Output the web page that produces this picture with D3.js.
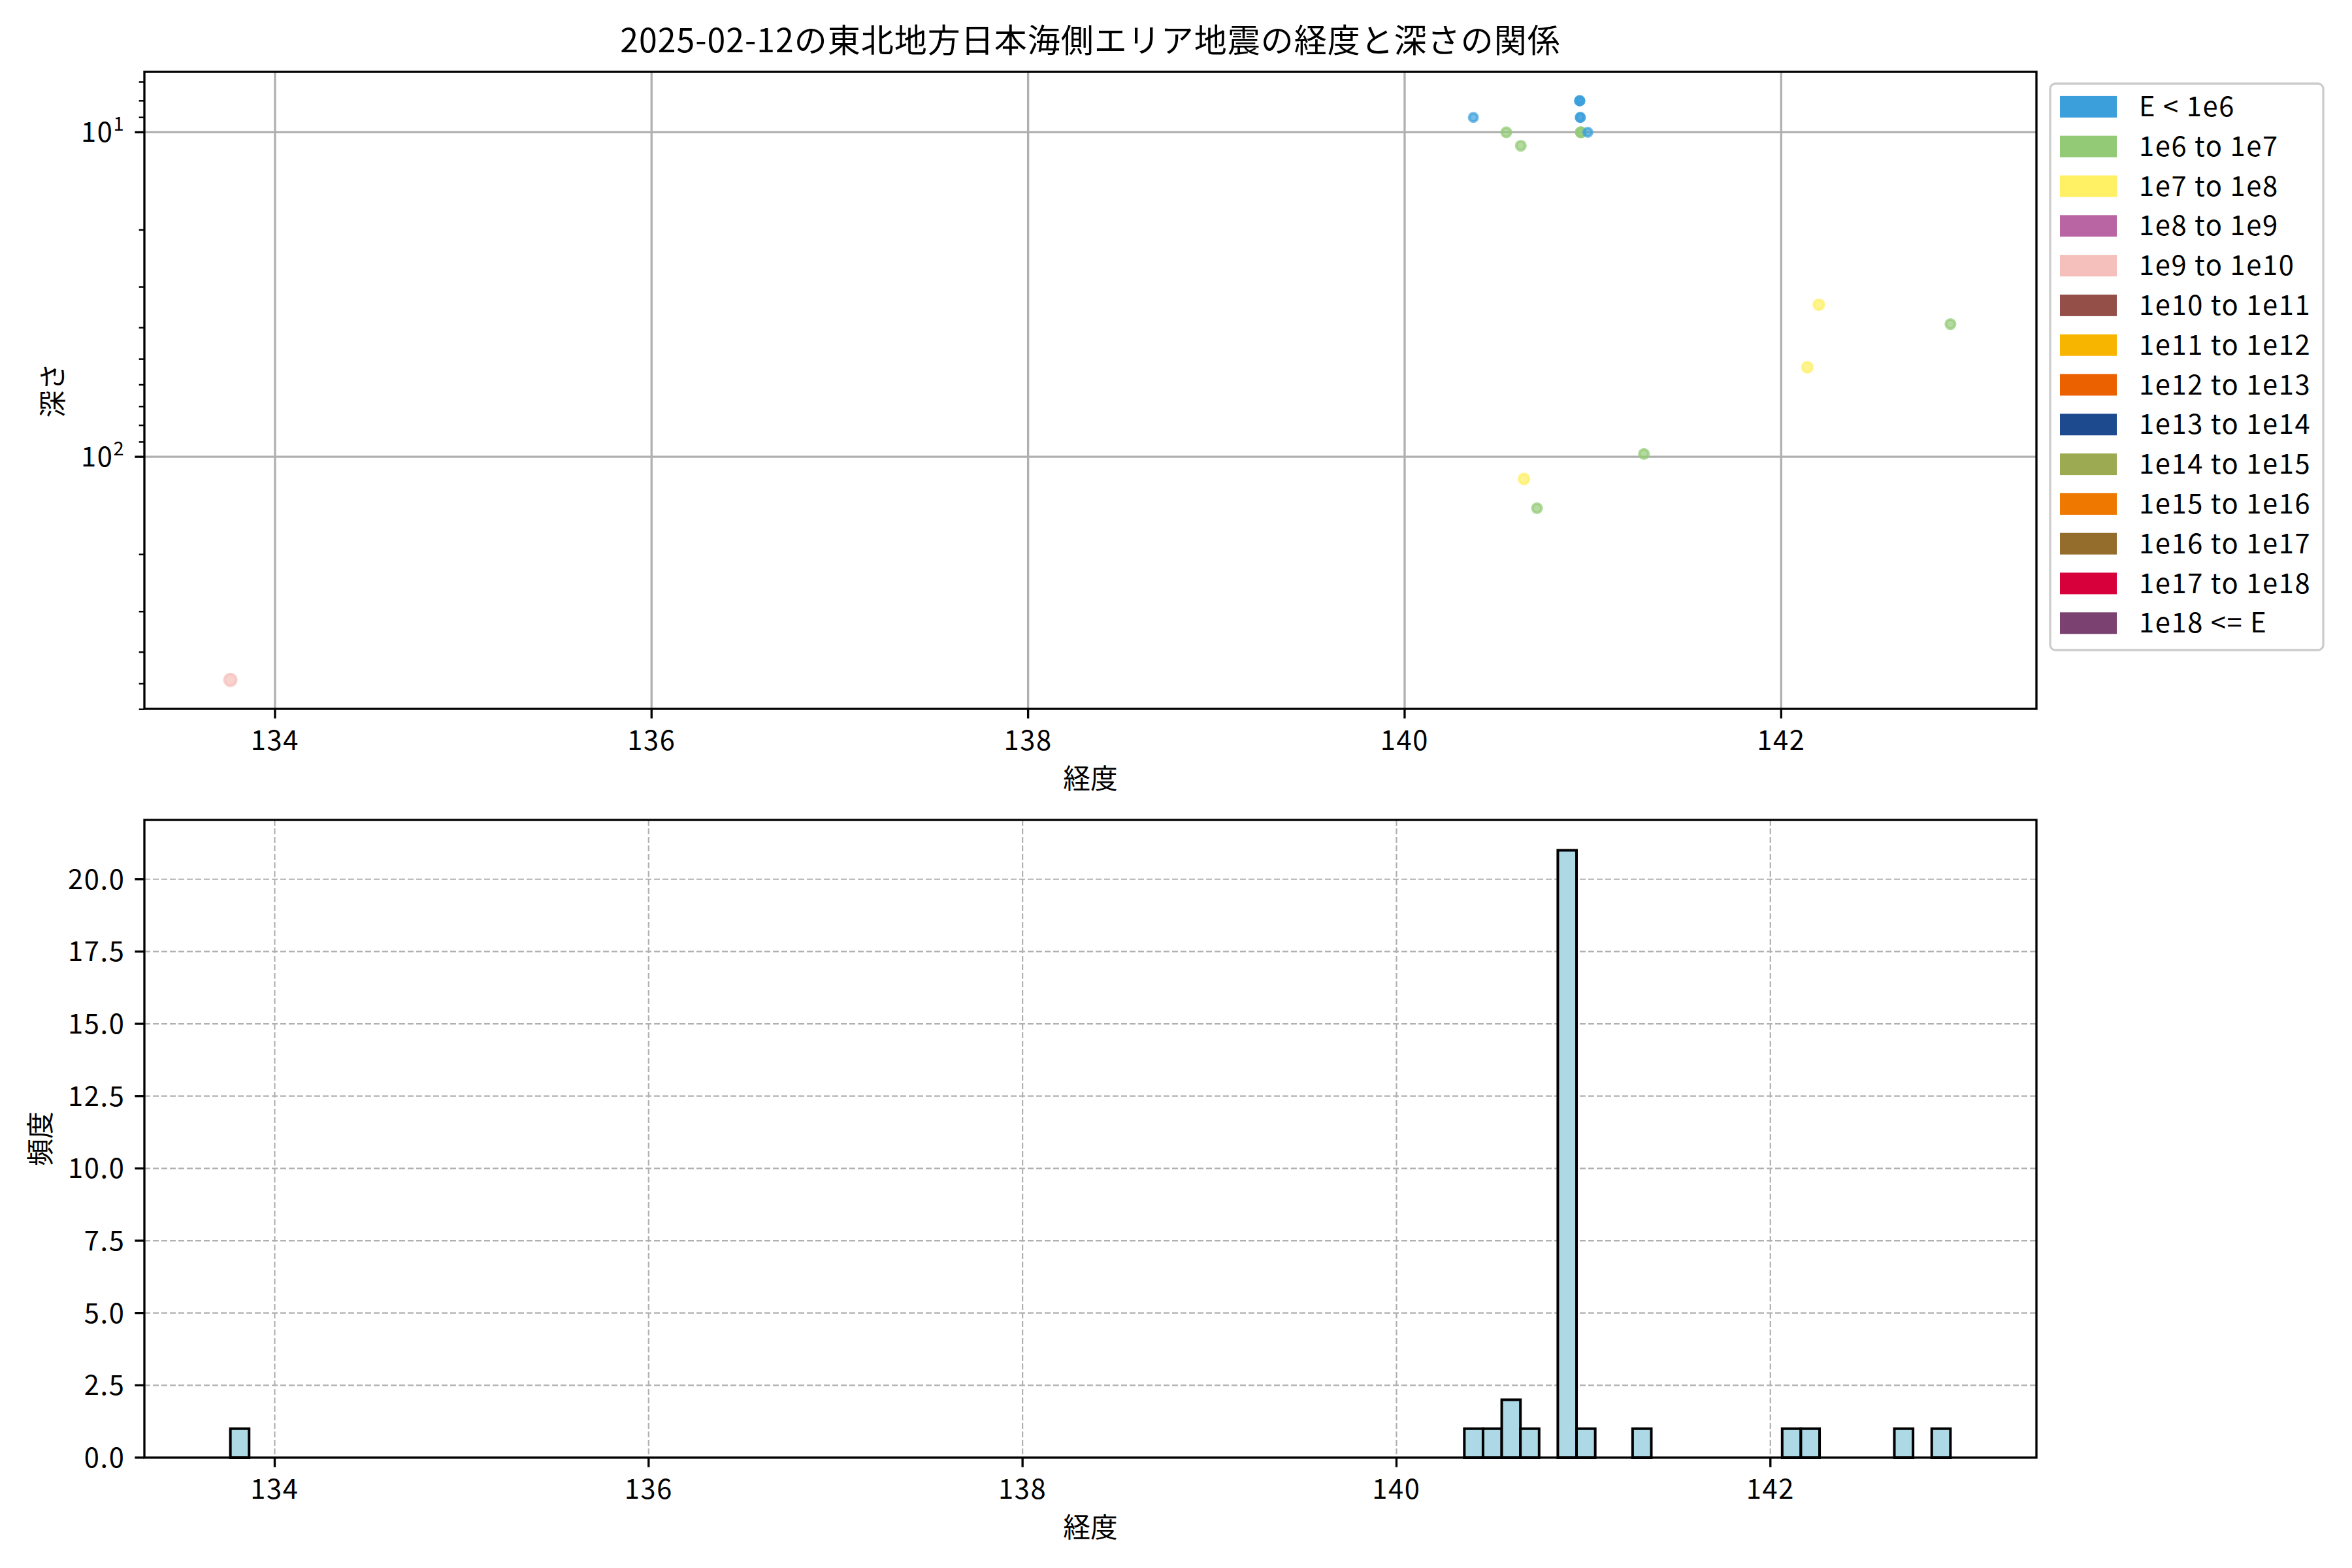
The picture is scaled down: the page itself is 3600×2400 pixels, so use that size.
<!DOCTYPE html>
<html><head><meta charset="utf-8">
<script src="https://cdn.jsdelivr.net/npm/d3@7"></script>
<style>body{margin:0;background:#fff}</style>
</head><body><svg id="chart" width="3600" height="2400" xmlns="http://www.w3.org/2000/svg"></svg>
<script>
// ---------- data ----------
const chartTitle = "2025-02-12の東北地方日本海側エリア地震の経度と深さの関係";
const xLabel = "経度";
const depthLabel = "深さ";
const countLabel = "頻度";

const energyLabels = ["E < 1e6","1e6 to 1e7","1e7 to 1e8","1e8 to 1e9","1e9 to 1e10","1e10 to 1e11",
  "1e11 to 1e12","1e12 to 1e13","1e13 to 1e14","1e14 to 1e15","1e15 to 1e16","1e16 to 1e17",
  "1e17 to 1e18","1e18 <= E"];
const energyColors = ["#3a9fdb","#93ca76","#fff064","#b965a3","#f5bfbb","#934f48","#f8b500",
  "#eb6100","#1d4a8f","#9caa52","#ee7800","#946c2c","#d7003a","#7a4171"];

// scatter points (longitude, depth km, energy class index)
const pointLon   = [140.365, 140.540, 140.617, 140.930, 140.930, 140.930, 140.933, 140.933, 140.936, 140.936, 140.973, 140.634, 140.703, 141.271, 142.200, 142.899, 142.139, 133.763];
const pointDepth = [9.0,     10.0,    11.0,    8.0,     8.0,     8.0,     9.0,     9.0,     10.0,    10.0,    10.0,    117,     144,     98,      34,      39,      53,      487];
const pointClass = [0,       1,       1,       0,       0,       0,       0,       0,       1,       1,       0,       2,       1,       1,       2,       1,       2,       4];

// histogram of longitudes (bin left edge, count), bin width 0.1
const histBinLeft = [133.763, 140.363, 140.463, 140.563, 140.663, 140.863, 140.963, 141.263, 142.063, 142.163, 142.663, 142.863];
const histCount   = [1,       1,       1,       2,       1,       21,      1,       1,       1,       1,       1,       1];
const histBinWidth = 0.1;

const lonTicks = [134, 136, 138, 140, 142];
const depthMajorTicks = [10, 100];
const depthMajorLabels = [["10","1"],["10","2"]];
const depthMinorTicks = [7, 8, 9, 20, 30, 40, 50, 60, 70, 80, 90, 200, 300, 400, 500, 600];
const countTicks = [0, 2.5, 5, 7.5, 10, 12.5, 15, 17.5, 20];

// ---------- layout ----------
const FONT = "'Noto Sans CJK JP', 'Noto Sans', sans-serif";
const FS = 41.7;
const LS = 1.6;
const L = 221, R = 3117;
const top1 = 110, bot1 = 1085;
const top2 = 1255, bot2 = 2231;
const SPINE = 3.33, MAJ = 14.6, MIN = 8.3, GRIDW = 3.33;

const svg = d3.select("#chart");
svg.append("rect").attr("width",3600).attr("height",2400).attr("fill","#fff");

// ---------- scales ----------
const pad = (lo, hi) => { const d = hi - lo; return [lo - 0.05*d, hi + 0.05*d]; };
const x1 = d3.scaleLinear().domain(pad(d3.min(pointLon), d3.max(pointLon))).range([L, R]);
const ldom = pad(Math.log10(d3.min(pointDepth)), Math.log10(d3.max(pointDepth)));
const y1 = d3.scaleLog().domain([10**ldom[0], 10**ldom[1]]).range([top1, bot1]);
const histLo = d3.min(histBinLeft), histHi = d3.max(histBinLeft) + histBinWidth;
const x2 = d3.scaleLinear().domain(pad(histLo, histHi)).range([L, R]);
const y2 = d3.scaleLinear().domain([0, d3.max(histCount)*1.05]).range([bot2, top2]);

// ---------- top: scatter ----------
const g1 = svg.append("g");
g1.selectAll(".gx").data(lonTicks).join("line")
  .attr("x1", d => x1(d)).attr("x2", d => x1(d)).attr("y1", top1).attr("y2", bot1)
  .attr("stroke", "#b0b0b0").attr("stroke-width", GRIDW);
g1.selectAll(".gy").data(depthMajorTicks).join("line")
  .attr("x1", L).attr("x2", R).attr("y1", d => y1(d)).attr("y2", d => y1(d))
  .attr("stroke", "#b0b0b0").attr("stroke-width", GRIDW);

const rScale = d3.scaleLinear().domain([0, 4]).range([6.4, 8.9]);
g1.selectAll("circle").data(pointLon.map((v,i)=>({lon:v, depth:pointDepth[i], c:pointClass[i]}))).join("circle")
  .attr("cx", d => x1(d.lon)).attr("cy", d => y1(d.depth)).attr("r", d => rScale(d.c))
  .attr("fill", d => energyColors[d.c]).attr("fill-opacity", 0.7)
  .attr("stroke", d => energyColors[d.c]).attr("stroke-opacity", 0.7).attr("stroke-width", 4.17);

g1.selectAll(".xt").data(lonTicks).join("line")
  .attr("x1", d => x1(d)).attr("x2", d => x1(d)).attr("y1", bot1).attr("y2", bot1 + MAJ)
  .attr("stroke", "#000").attr("stroke-width", SPINE);
g1.selectAll(".xtl").data(lonTicks).join("text")
  .attr("x", d => x1(d)).attr("y", bot1 + 63).attr("text-anchor", "middle")
  .attr("font-family", FONT).attr("font-size", FS).attr("letter-spacing", LS).text(d => d);
g1.selectAll(".ytm").data(depthMajorTicks).join("line")
  .attr("x1", L - MAJ).attr("x2", L).attr("y1", d => y1(d)).attr("y2", d => y1(d))
  .attr("stroke", "#000").attr("stroke-width", SPINE);
g1.selectAll(".ytn").data(depthMinorTicks).join("line")
  .attr("x1", L - MIN).attr("x2", L).attr("y1", d => y1(d)).attr("y2", d => y1(d))
  .attr("stroke", "#000").attr("stroke-width", 2.5);
const ytl = g1.selectAll(".ytl").data(depthMajorTicks).join("text")
  .attr("x", L - MAJ - 15).attr("y", d => y1(d) + 15).attr("text-anchor", "end")
  .attr("font-family", FONT).attr("font-size", FS).attr("letter-spacing", LS);
ytl.append("tspan").text((d,i) => depthMajorLabels[i][0]);
ytl.append("tspan").attr("font-size", FS*0.7).attr("dy", -17).text((d,i) => depthMajorLabels[i][1]);

g1.append("rect").attr("x", L).attr("y", top1).attr("width", R-L).attr("height", bot1-top1)
  .attr("fill", "none").attr("stroke", "#000").attr("stroke-width", SPINE);

svg.append("text").attr("x", (L+R)/2).attr("y", 80).attr("text-anchor", "middle")
  .attr("font-family", FONT).attr("font-size", 50).attr("letter-spacing", 1).text(chartTitle);
svg.append("text").attr("x", (L+R)/2).attr("y", 1207).attr("text-anchor", "middle")
  .attr("font-family", FONT).attr("font-size", FS).text(xLabel);
svg.append("text").attr("transform", `translate(96,${(top1+bot1)/2}) rotate(-90)`).attr("text-anchor", "middle")
  .attr("font-family", FONT).attr("font-size", FS).text(depthLabel);

// legend
const lg = svg.append("g");
lg.append("rect").attr("x", 3138).attr("y", 128).attr("width", 418).attr("height", 867).attr("rx", 8)
  .attr("fill", "#fff").attr("fill-opacity", 0.8).attr("stroke", "#cccccc").attr("stroke-width", 3.3);
const li = lg.selectAll(".li").data(energyLabels).join("g")
  .attr("transform", (d,i) => `translate(0,${163.4 + i*60.8})`);
li.append("rect").attr("x", 3153).attr("y", -16.5).attr("width", 87).attr("height", 33)
  .attr("fill", (d,i) => energyColors[i]);
li.append("text").attr("x", 3274).attr("y", 14.5).attr("font-family", FONT).attr("font-size", FS)
  .attr("letter-spacing", LS).text(d => d);

// ---------- bottom: histogram ----------
const g2 = svg.append("g");
g2.selectAll(".gx").data(lonTicks).join("line")
  .attr("x1", d => x2(d)).attr("x2", d => x2(d)).attr("y1", top2).attr("y2", bot2)
  .attr("stroke", "#b0b0b0").attr("stroke-width", 2.2).attr("stroke-dasharray", "9,4");
g2.selectAll(".gy").data(countTicks).join("line")
  .attr("x1", L).attr("x2", R).attr("y1", d => y2(d)).attr("y2", d => y2(d))
  .attr("stroke", "#b0b0b0").attr("stroke-width", 2.2).attr("stroke-dasharray", "9,4");
g2.selectAll(".bar").data(histBinLeft.map((v,i)=>({x0:v, n:histCount[i]}))).join("rect")
  .attr("x", d => x2(d.x0)).attr("width", d => x2(d.x0 + histBinWidth) - x2(d.x0))
  .attr("y", d => y2(d.n)).attr("height", d => y2(0) - y2(d.n))
  .attr("fill", "#add8e6").attr("stroke", "#000").attr("stroke-width", 4);
g2.selectAll(".xt").data(lonTicks).join("line")
  .attr("x1", d => x2(d)).attr("x2", d => x2(d)).attr("y1", bot2).attr("y2", bot2 + MAJ)
  .attr("stroke", "#000").attr("stroke-width", SPINE);
g2.selectAll(".xtl").data(lonTicks).join("text")
  .attr("x", d => x2(d)).attr("y", bot2 + 63).attr("text-anchor", "middle")
  .attr("font-family", FONT).attr("font-size", FS).attr("letter-spacing", LS).text(d => d);
g2.selectAll(".yt").data(countTicks).join("line")
  .attr("x1", L - MAJ).attr("x2", L).attr("y1", d => y2(d)).attr("y2", d => y2(d))
  .attr("stroke", "#000").attr("stroke-width", SPINE);
g2.selectAll(".ytl").data(countTicks).join("text")
  .attr("x", L - MAJ - 15).attr("y", d => y2(d) + 15).attr("text-anchor", "end")
  .attr("font-family", FONT).attr("font-size", FS).attr("letter-spacing", LS).text(d => d3.format(".1f")(d));
g2.append("rect").attr("x", L).attr("y", top2).attr("width", R-L).attr("height", bot2-top2)
  .attr("fill", "none").attr("stroke", "#000").attr("stroke-width", SPINE);
svg.append("text").attr("x", (L+R)/2).attr("y", bot2 + 122).attr("text-anchor", "middle")
  .attr("font-family", FONT).attr("font-size", FS).text(xLabel);
svg.append("text").attr("transform", `translate(77,${(top2+bot2)/2}) rotate(-90)`).attr("text-anchor", "middle")
  .attr("font-family", FONT).attr("font-size", FS).text(countLabel);
</script>
</body></html>
